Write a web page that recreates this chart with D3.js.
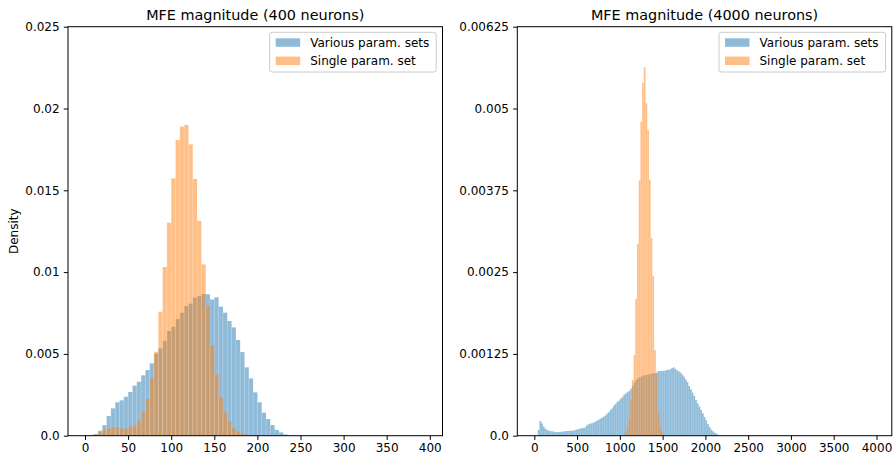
<!DOCTYPE html>
<html><head><meta charset="utf-8">
<script src="https://cdn.jsdelivr.net/npm/d3@7"></script>
<style>
html,body{margin:0;padding:0;background:#fff;}
svg{display:block;}
text{font-family:"DejaVu Sans",sans-serif;fill:#000;}
</style></head>
<body>
<svg id="chart" width="896" height="461"></svg>
<script>
// ---------------- data ----------------
const seriesNames = ["Various param. sets", "Single param. set"];
const titles = ["MFE magnitude (400 neurons)", "MFE magnitude (4000 neurons)"];

// left panel: bins of width 5 starting at 0
const leftBinStart = 0, leftBinWidth = 5;
const leftVarious = [0.00002,0.00005,0.0001,0.0003,0.00065,0.0012,0.00167,0.00204,0.00216,0.00238,
 0.00267,0.00306,0.0033,0.00369,0.00401,0.00442,0.00501,0.00534,0.00579,0.0064,
 0.00666,0.00713,0.00752,0.00793,0.00807,0.00844,0.00854,0.00866,0.00864,0.00833,
 0.00846,0.00789,0.00752,0.00701,0.00662,0.00585,0.00511,0.00418,0.0035,0.00265,
 0.00204,0.00141,0.00102,0.00065,0.00035,0.0002,0.00008,0.00004,0.00002,0.00002,
 0.00001,0.00001,0.00001,0.00001,0.00001,0.00001,0.00001,0.00001,0.00001,0.00001,
 0.00001,0.00001,0.00001,0.00001,0.00001,0.00001,0.00001,0.00001,0.00001,0.00001,
 0.00002,0.00002,0.00001,0.00001,0.00001,0.00001,0.00002,0.00002,0.00001];
const leftSingleStart = 0;
const leftSingle = [0,0.00003,0.00008,0.0002,0.00035,0.00045,0.0005,0.00053,0.00045,0.00043,
 0.00055,0.00059,0.00092,0.00147,0.00224,0.0035,0.00513,0.00758,0.01031,0.01302,
 0.01573,0.01807,0.01889,0.01899,0.01781,0.01569,0.01312,0.01047,0.00793,0.00554,
 0.00375,0.00236,0.00147,0.00086,0.00045,0.00024,0.00014,0.00004,0.00002];

// right panel: bins of width 20 starting at 0
const rightBinStart = 0, rightBinWidth = 20;
const rightVarious = [0,0,
 0.000087,0.000224,0.000188,0.000138,0.000107,0.000087,0.000076,0.000071,0.000066,0.000061,
 0.000056,0.000056,0.000056,0.000061,0.000061,0.000066,0.000071,0.000071,0.000076,0.000076,
 0.000076,0.000082,0.000092,0.000097,0.000107,0.000112,0.000117,0.000122,0.000153,0.000173,
 0.000183,0.000188,0.000199,0.000209,0.000229,0.000239,0.00026,0.00027,0.00029,0.000306,
 0.000336,0.000357,0.000392,0.000418,0.000458,0.000484,0.000514,0.000535,0.000565,0.000591,
 0.000627,0.000647,0.000667,0.000683,0.000718,0.000759,0.00081,0.000851,0.000871,0.000891,
 0.000902,0.000917,0.000922,0.000927,0.000932,0.000942,0.000947,0.000953,0.000953,0.000963,
 0.000988,0.000988,0.000988,0.000993,0.000993,0.001003,0.001009,0.001014,0.001034,0.001044,
 0.001019,0.000998,0.000983,0.000963,0.000932,0.000902,0.000861,0.00082,0.000759,0.000708,
 0.000657,0.000606,0.000545,0.000494,0.000443,0.000392,0.000341,0.000285,0.000234,0.000178,
 0.000132,0.000092,0.000066,0.000046,0.000031,0.000015,0.00001,0.000005,
 0.000004,0.000004,0.000003,0.000003,0.000003,0.000003,0.000003,0.000003,0.000003,0.000003,
 0.000003,0.000003,0.000003,0.000003,0.000003,0.000003,0.000003,0.000003,0.000003,0.000003,
 0.000003,0.000003,0.000003,0.000003,0.000003,0.000003,0.000003,0.000003,0.000003,0.000003,
 0.000003,0.000003,0.000003,0.000003,0.000003,0.000003,0.000003,0.000003,0.000003,0.000003,
 0.000003,0.000003,0.000003,0.000003,0.000003,0.000003,0.000003,0.000003,0.000003,0.000003,
 0.000003,0.000003,0.000003,0.000003,0.000003,0.000003,0.000003,0.000003,0.000003,0.000003,
 0.000003,0.000003,0.000003,0.000003,0.000003,0.000003,0.000003,0.000003,0.000003,0.000003,
 0.000003,0.000003,0.000003,0.000003,0.000003,0.000003,0.000003,0.000003,0.000003,0.000003,
 0.000003,0.000003,0.000003,0.000003,0.000003,0.000003,0.000003,0.000003];
const rightSingleStart = 1060;
const rightSingle = [0.00006,0.00014,0.00026,0.00055,0.00085,0.00123,0.00209,0.00293,0.0039,0.0048,
 0.00539,0.00563,0.00508,0.00467,0.00391,0.00302,0.00244,0.00131,0.00095,0.00035,0.00015,0.00005];

// axis ticks
const leftXTicks = [0,50,100,150,200,250,300,350,400];
const rightXTicks = [0,500,1000,1500,2000,2500,3000,3500,4000];
const leftYTicks = [0,0.005,0.01,0.015,0.02,0.025];
const leftYLabels = ["0.0","0.005","0.01","0.015","0.02","0.025"];
const rightYTicks = [0,0.00125,0.0025,0.00375,0.005,0.00625];
const rightYLabels = ["0.0","0.00125","0.0025","0.00375","0.005","0.00625"];
const yLabel = "Density";

// ---------------- drawing ----------------
const colors = ["#1f77b4", "#ff7f0e"];
const svg = d3.select("#chart");
const plotTop = 26.7, plotBottom = 435.7;

const panels = [
  {x0:68, x1:442.5, xdom:[-19.75,414.75], ydom:[0,0.025], title:titles[0],
   series:[{start:leftBinStart, w:leftBinWidth, v:leftVarious},{start:leftSingleStart, w:leftBinWidth, v:leftSingle}],
   xt:leftXTicks, yt:leftYTicks, yl:leftYLabels, ylabel:true, seam:0.7},
  {x0:517.3, x1:891.8, xdom:[-199,4179], ydom:[0,0.00625], title:titles[1],
   series:[{start:rightBinStart, w:rightBinWidth, v:rightVarious},{start:rightSingleStart, w:rightBinWidth, v:rightSingle}],
   xt:rightXTicks, yt:rightYTicks, yl:rightYLabels, ylabel:false, seam:0.35}
];

panels.forEach(p => {
  const x = d3.scaleLinear().domain(p.xdom).range([p.x0, p.x1]);
  const y = d3.scaleLinear().domain(p.ydom).range([plotBottom, plotTop]);
  const g = svg.append("g");
  const clipId = "clip" + Math.round(p.x0);
  svg.append("clipPath").attr("id", clipId).append("rect")
    .attr("x", p.x0).attr("y", plotTop).attr("width", p.x1 - p.x0).attr("height", plotBottom - plotTop);
  const bars = g.append("g").attr("clip-path", `url(#${clipId})`);
  p.series.forEach((s, si) => {
    const data = s.v.map((v, i) => ({a: s.start + i * s.w, b: s.start + (i + 1) * s.w, v}))
      .filter(d => d.v > 0);
    bars.append("g").selectAll("rect").data(data).join("rect")
      .attr("x", d => x(d.a))
      .attr("width", d => x(d.b) - x(d.a))
      .attr("y", d => y(d.v))
      .attr("height", d => y(0) - y(d.v))
      .attr("fill", colors[si])
      .attr("fill-opacity", 0.5);
    // faint light seams between adjacent bars (as in the antialiased original)
    bars.append("g").selectAll("line").data(data.slice(1)).join("line")
      .attr("x1", d => x(d.a)).attr("x2", d => x(d.a))
      .attr("y1", d => y(d.v)).attr("y2", y(0))
      .attr("stroke", "#fff").attr("stroke-opacity", 0.3).attr("stroke-width", p.seam);
  });
  // axes
  const xa = d3.axisBottom(x).tickValues(p.xt).tickFormat(d3.format("d")).tickSize(4.2).tickPadding(3.5).tickSizeOuter(0);
  const gx = g.append("g").attr("transform", `translate(0,${plotBottom})`).call(xa);
  const ya = d3.axisLeft(y).tickValues(p.yt).tickFormat((d, i) => p.yl[i]).tickSize(4.2).tickPadding(4.2).tickSizeOuter(0);
  const gy = g.append("g").attr("transform", `translate(${p.x0},0)`).call(ya);
  [gx, gy].forEach(a => {
    a.select(".domain").remove();
    a.selectAll("line").attr("stroke", "#000").attr("stroke-width", 1);
    a.selectAll("text").attr("font-size", 12).attr("fill", "#000").attr("font-family", "DejaVu Sans");
  });
  // frame
  g.append("rect").attr("x", p.x0).attr("y", plotTop).attr("width", p.x1 - p.x0).attr("height", plotBottom - plotTop)
    .attr("fill", "none").attr("stroke", "#000").attr("stroke-width", 1);
  // title
  g.append("text").attr("x", (p.x0 + p.x1) / 2).attr("y", 20).attr("text-anchor", "middle")
    .attr("font-size", 14.4).text(p.title);
  if (p.ylabel) {
    g.append("text").attr("transform", `translate(18,${(plotTop + plotBottom) / 2}) rotate(-90)`)
      .attr("text-anchor", "middle").attr("font-size", 12).text(yLabel);
  }
  // legend
  const lx1 = p.x1 - 6.3, lx0 = lx1 - 166.5, ly0 = 32.3, ly1 = 72;
  const lg = g.append("g");
  lg.append("rect").attr("x", lx0).attr("y", ly0).attr("width", lx1 - lx0).attr("height", ly1 - ly0)
    .attr("rx", 2.5).attr("fill", "#fff").attr("fill-opacity", 0.8).attr("stroke", "#cccccc").attr("stroke-width", 1);
  seriesNames.forEach((n, i) => {
    const yy = 38.3 + i * 18.3;
    lg.append("rect").attr("x", lx0 + 6).attr("y", yy).attr("width", 24.5).attr("height", 8.5)
      .attr("fill", colors[i]).attr("fill-opacity", 0.5);
    lg.append("text").attr("x", lx0 + 40.5).attr("y", yy + 8.7).attr("font-size", 12).text(n);
  });
});
</script>
</body></html>
